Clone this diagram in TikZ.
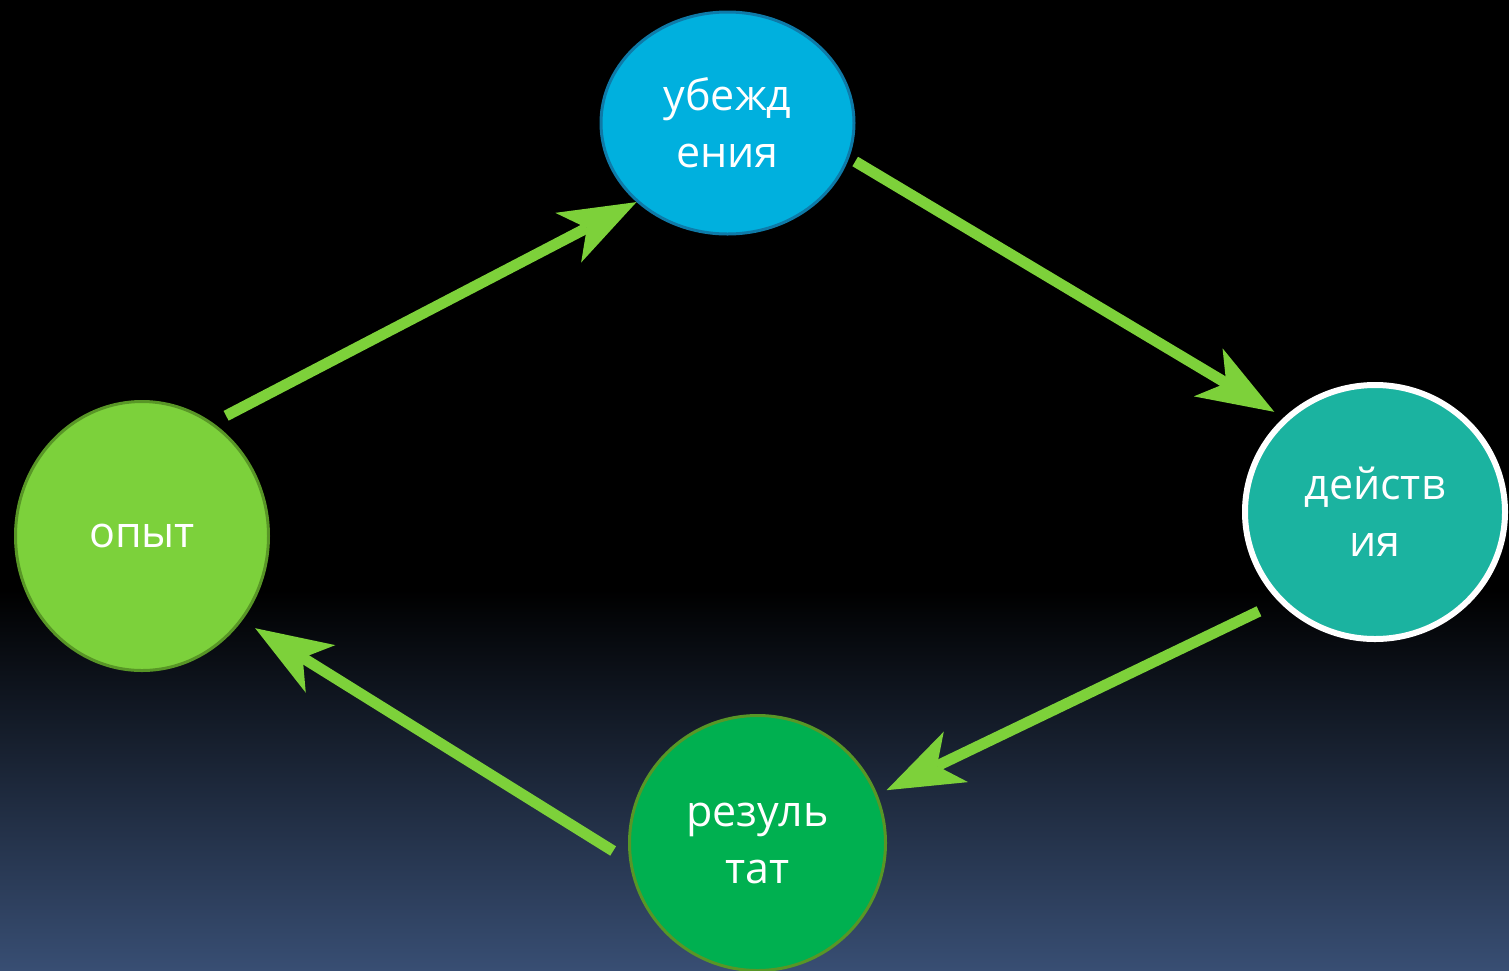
\documentclass[tikz,border=0pt]{standalone}
\usepackage{fontspec}
\setmainfont{Open Sans}
\usetikzlibrary{arrows.meta,positioning,shapes.geometric}

\definecolor{flowgreen}{RGB}{125,209,58}
\definecolor{opytfill}{RGB}{124,209,59}
\definecolor{greenrim}{RGB}{88,150,38}
\definecolor{ubfill}{RGB}{0,176,222}
\definecolor{ubrim}{RGB}{14,122,168}
\definecolor{deysfill}{RGB}{27,179,160}
\definecolor{rezfill}{RGB}{0,176,80}
\definecolor{bgblue}{RGB}{56,78,115}

\begin{document}
\begin{tikzpicture}[->,>={Stealth[length=77pt,width=56pt,inset=21pt,line width=0pt]},
		on grid,
		main node/.style={ellipse,draw,line width=3pt,inner sep=0pt,align=center,
			text=white,font=\fontsize{43}{57}\selectfont},
		flow/.style={draw=flowgreen,line width=11pt}]

		\useasboundingbox (0,0) rectangle (1509pt,-970pt);
		\fill[black] (0,0) rectangle (1509pt,-590pt);
		\shade[top color=black,bottom color=bgblue] (0,-590pt) rectangle (1509pt,-970pt);

		\node[main node,fill=opytfill,draw=greenrim,minimum width=253pt,minimum height=269pt] (1) at (142pt,-536pt) {опыт};
		\node[main node,fill=ubfill,draw=ubrim,minimum width=253pt,minimum height=222pt] (2) [above right=413pt and 585.5pt of 1] {убежд\\ения};
		\node[main node,fill=deysfill,draw=white,line width=6pt,minimum width=260pt,minimum height=254pt] (3) [below right=389pt and 647.5pt of 2] {действ\\ия};
		\node[main node,fill=rezfill,draw=greenrim,minimum width=256pt,minimum height=255pt] (4) [below left=331pt and 617.5pt of 3] {резуль\\тат};

		\path
		(1.58.6) edge[flow,shorten <=15pt] (2.221.6)
		(2.344.7) edge[flow,shorten <=7pt,shorten >=11pt] (3.134.8)
		(3.223.6) edge[flow,shorten <=22pt,shorten >=10pt] (4.22.6)
		(4.188.6) edge[flow,shorten <=19pt,shorten >=15pt] (1.320.7);
\end{tikzpicture}
\end{document}
